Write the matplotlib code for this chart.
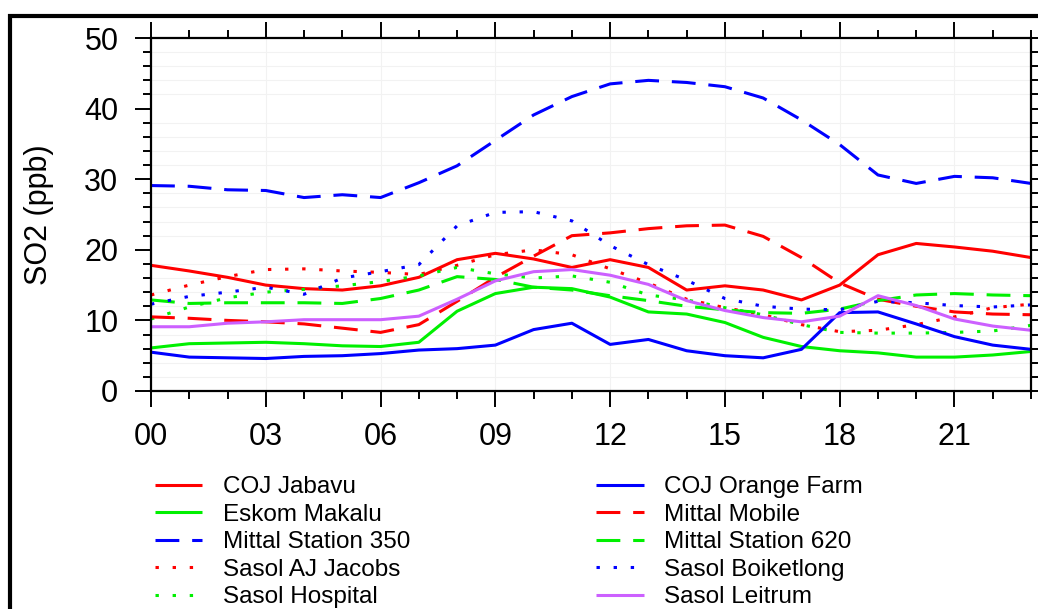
import matplotlib
matplotlib.use("Agg")
import matplotlib.pyplot as plt
from matplotlib.lines import Line2D
import numpy as np

plt.rcParams['font.family'] = ['Liberation Sans', 'DejaVu Sans']

hours = list(range(24))
xtick_labels = ["00", "03", "06", "09", "12", "15", "18", "21"]

coj_jabavu = [17.8, 17.0, 16.1, 15.0, 14.5, 14.3, 14.9, 16.1, 18.6, 19.5, 18.7, 17.5,
              18.6, 17.5, 14.3, 14.9, 14.3, 12.9, 15.0, 19.3, 20.9, 20.4, 19.8, 18.9]
coj_orange_farm = [5.5, 4.8, 4.7, 4.6, 4.9, 5.0, 5.3, 5.8, 6.0, 6.5, 8.7, 9.6,
                   6.6, 7.3, 5.7, 5.0, 4.7, 5.9, 11.1, 11.2, 9.5, 7.7, 6.5, 5.9]
eskom_makalu = [6.1, 6.7, 6.8, 6.9, 6.7, 6.4, 6.3, 6.9, 11.3, 13.8, 14.7, 14.5,
                13.3, 11.2, 10.9, 9.7, 7.6, 6.3, 5.7, 5.4, 4.8, 4.8, 5.1, 5.6]
mittal_mobile = [10.5, 10.3, 10.0, 9.8, 9.5, 8.9, 8.3, 9.4, 12.7, 16.1, 19.1, 22.0,
                 22.4, 23.0, 23.4, 23.5, 21.9, 18.9, 15.3, 13.0, 12.0, 11.2, 10.9, 10.8]
mittal_350 = [29.1, 29.0, 28.5, 28.4, 27.4, 27.8, 27.4, 29.5, 31.9, 35.5, 39.1, 41.7,
              43.5, 44.0, 43.7, 43.1, 41.5, 38.4, 34.9, 30.6, 29.4, 30.4, 30.2, 29.4]
mittal_620 = [12.9, 12.4, 12.5, 12.5, 12.5, 12.4, 13.1, 14.3, 16.2, 15.8, 14.7, 14.3,
              13.5, 12.8, 12.0, 11.5, 11.1, 11.0, 11.6, 12.8, 13.6, 13.8, 13.6, 13.5]
sasol_aj_jacobs = [13.6, 15.0, 16.2, 17.2, 17.3, 17.0, 16.8, 16.5, 17.8, 19.3, 20.0, 19.3,
                   17.3, 15.3, 13.0, 11.8, 10.8, 9.4, 8.4, 8.6, 9.4, 10.5, 11.8, 12.3]
sasol_boiketlong = [12.3, 13.4, 14.0, 14.7, 13.7, 16.0, 16.9, 17.9, 23.4, 25.3, 25.4, 24.1,
                    20.6, 17.9, 15.7, 13.1, 12.0, 11.6, 11.5, 12.7, 12.5, 12.1, 11.9, 12.2]
sasol_hospital = [10.2, 11.9, 13.2, 14.0, 14.4, 14.9, 15.5, 16.3, 17.5, 16.6, 16.0, 16.3,
                  15.4, 13.6, 12.9, 11.8, 10.8, 9.4, 8.3, 8.2, 8.2, 8.3, 8.5, 9.3]
sasol_leitrum = [9.1, 9.1, 9.6, 9.8, 10.1, 10.1, 10.1, 10.6, 13.0, 15.6, 16.9, 17.2,
                 16.4, 15.1, 12.8, 11.4, 10.4, 9.8, 10.6, 13.5, 12.1, 10.2, 9.2, 8.6]

RED, GREEN, BLUE, PURPLE = '#ff0000', '#00f000', '#0000ff', '#cc60ff'
LW = 2.2
SOLID = '-'
DASH = (0, (7.8, 4.2))
DOT = (0, (1.1, 4.5))

series = [
    ("COJ Jabavu", coj_jabavu, RED, SOLID),
    ("Eskom Makalu", eskom_makalu, GREEN, SOLID),
    ("Mittal Station 350", mittal_350, BLUE, DASH),
    ("Sasol AJ Jacobs", sasol_aj_jacobs, RED, DOT),
    ("Sasol Hospital", sasol_hospital, GREEN, DOT),
    ("COJ Orange Farm", coj_orange_farm, BLUE, SOLID),
    ("Mittal Mobile", mittal_mobile, RED, DASH),
    ("Mittal Station 620", mittal_620, GREEN, DASH),
    ("Sasol Boiketlong", sasol_boiketlong, BLUE, DOT),
    ("Sasol Leitrum", sasol_leitrum, PURPLE, SOLID),
]

W, H = 1038, 609
fig = plt.figure(figsize=(W / 100, H / 100), dpi=100)
ax = fig.add_axes([151 / W, 1 - 391 / H, (1031 - 151) / W, (391 - 38) / H])

handles = []
for name, vals, col, ls in series:
    ln, = ax.plot(hours, vals, color=col, lw=LW, linestyle=ls, label=name,
                  solid_capstyle='butt', dash_capstyle='butt')
    handles.append(ln)

ax.set_xlim(0, 23)
ax.set_ylim(0, 50)
ax.set_xticks(range(0, 22, 3))
ax.set_xticklabels(xtick_labels)
ax.set_xticks(range(0, 24), minor=True)
ax.set_yticks(range(0, 51, 10))
ax.set_yticks(range(0, 51, 2), minor=True)

ax.grid(True, which='major', axis='x', color='#f2f2f2', lw=0.8)
ax.grid(True, which='minor', axis='y', color='#f2f2f2', lw=0.8)
ax.set_axisbelow(True)

for sp in ax.spines.values():
    sp.set_linewidth(1.6)
ax.tick_params(which='both', direction='out', top=True, right=True, width=1.4,
               labelsize=22, colors='black')
ax.tick_params(which='major', length=11.5)
ax.tick_params(which='minor', length=5.8)
ax.tick_params(axis='y', which='major', pad=12)
ax.tick_params(axis='x', which='major', pad=11)

ax.set_ylabel("SO2 (ppb)", fontsize=22, labelpad=22)

leg = fig.legend(handles=handles, loc='upper left', bbox_to_anchor=(155 / W, 1 - 476 / H),
                 ncol=2, frameon=False, fontsize=17.5, handlelength=1.95,
                 handletextpad=0.85, columnspacing=7.65, labelspacing=0.23,
                 borderaxespad=0, borderpad=0)

# outer frame lines (top and left)
fig.add_artist(Line2D([8 / W, 1.0], [1 - 16 / H, 1 - 16 / H], color='black', lw=3,
                      transform=fig.transFigure, solid_capstyle='butt'))
fig.add_artist(Line2D([10 / W, 10 / W], [0, 1 - 14 / H], color='black', lw=3,
                      transform=fig.transFigure, solid_capstyle='butt'))

fig.savefig("out.png", dpi=100)
